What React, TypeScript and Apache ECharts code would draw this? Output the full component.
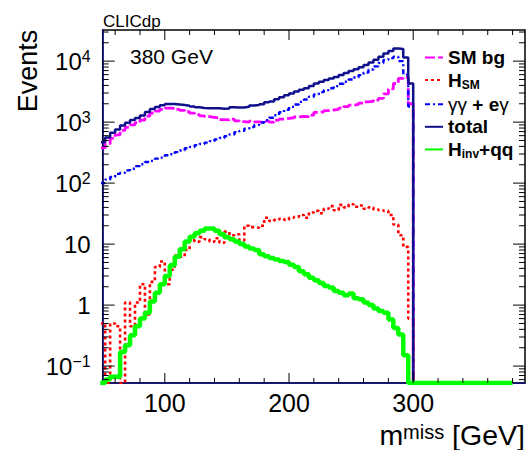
import React, { useEffect, useRef } from 'react';
import * as echarts from 'echarts';

const FONT = '"Liberation Sans", Arial, Helvetica, sans-serif';

// Histogram binning: bins of 4 GeV starting at 48 GeV (first bin clipped by the axis at 50)
const BIN_START = 48;
const BIN_WIDTH = 4;
const HIST_END = 380;
const X_MIN = 50;
const X_MAX = 390;
const Y_MIN = 0.0528;
const Y_MAX = 32400;

// bin centres: 50, 54, ..., 298 (63 bins); all series are empty above 300 GeV
const smBg = [
  380, 440, 540, 620, 730, 820, 900, 980,
  1080, 1250, 1400, 1520, 1620, 1700, 1680, 1620,
  1560, 1480, 1400, 1330, 1270, 1230, 1200, 1170,
  1100, 1090, 1120, 1050, 1020, 1000, 1040, 1010,
  990, 1040, 1000, 1080, 1120, 1150, 1180, 1220,
  1240, 1230, 1300, 1450, 1480, 1540, 1580, 1620,
  1700, 1800, 1900, 1950, 2050, 2150, 2200, 2300,
  2450, 2900, 3500, 4300, 5200, 5400, 2000,
];

const hSM = [
  0.5, 0, 0.5, 0.45, 0, 1.1, 0.45, 1.1,
  2.2, 0.7, 2.4, 4.2, 5.2, 2.2, 3.8, 6.5,
  6.2, 8, 11.5, 11, 13, 12, 11, 12.5,
  10.5, 16, 14, 14.5, 11.5, 20, 19, 18.5,
  20, 27, 24, 25, 26, 25, 27, 28,
  30, 27, 33, 35, 32, 38, 42, 36,
  44, 40, 45, 41, 43, 38, 40, 37,
  36, 35, 30, 21, 14, 9, 0.6,
];

const gammaGamma = [
  100, 114, 126, 142, 148, 162, 172, 190,
  204, 222, 232, 252, 262, 286, 298, 322,
  342, 372, 392, 420, 438, 462, 488, 522,
  548, 590, 628, 682, 718, 782, 828, 900,
  980, 1080, 1180, 1300, 1450, 1600, 1780, 1950,
  2150, 2350, 2600, 2850, 3100, 3350, 3600, 3900,
  4250, 4600, 5000, 5400, 5900, 6500, 7300, 8200,
  9300, 10500, 11200, 11800, 10000, 6000, 1800,
];

const total = [
  470, 560, 670, 760, 880, 980, 1080, 1170,
  1290, 1470, 1640, 1770, 1890, 1990, 1990, 1950,
  1910, 1860, 1800, 1750, 1710, 1690, 1690, 1690,
  1650, 1680, 1750, 1730, 1740, 1780, 1870, 1910,
  1970, 2120, 2180, 2380, 2570, 2750, 2960, 3170,
  3390, 3580, 3900, 4300, 4580, 4890, 5180, 5520,
  5950, 6400, 6900, 7350, 7950, 8650, 9500, 10500,
  11750, 13400, 14700, 16100, 15800, 11500, 4300,
];

const hInvQQ = [
  0, 0.06, 0.067, 0.067, 0.17, 0.22, 0.32, 0.45,
  0.6, 0.75, 1.15, 1.6, 2.2, 3.0, 4.5, 6.2,
  8.2, 11, 13.2, 15, 16.5, 18, 18, 16.5,
  14.5, 13, 12, 11, 10, 9.1, 8.5, 8,
  6.8, 6.3, 5.9, 5.6, 5.3, 5.1, 4.6, 4.2,
  3.6, 3.2, 2.8, 2.55, 2.3, 2.05, 1.95, 1.7,
  1.6, 1.45, 1.55, 1.3, 1.25, 1.1, 1.0, 0.88,
  0.8, 0.75, 0.58, 0.42, 0.33, 0.15, 0,
];

const xMajorTicks = [100, 200, 300];
const xMinorTicks = [60, 80, 120, 140, 160, 180, 220, 240, 260, 280, 320, 340, 360, 380];
const yMajorTicks = [0.1, 1, 10, 100, 1000, 10000];
const yMinorTicks = [
  0.06, 0.07, 0.08, 0.09,
  0.2, 0.3, 0.4, 0.5, 0.6, 0.7, 0.8, 0.9,
  2, 3, 4, 5, 6, 7, 8, 9,
  20, 30, 40, 50, 60, 70, 80, 90,
  200, 300, 400, 500, 600, 700, 800, 900,
  2000, 3000, 4000, 5000, 6000, 7000, 8000, 9000,
  20000, 30000,
];
const yTickLabels: Record<string, string> = {
  '-1': '{b|10}{sup|−1}',
  '0': '{b|1}',
  '1': '{b|10}',
  '2': '{b|10}{sup|2}',
  '3': '{b|10}{sup|3}',
  '4': '{b|10}{sup|4}',
};

const legendNames = ['SM bg', 'H_SM', 'γγ + eγ', 'total', 'H_inv+qq'];
const legendLabels: Record<string, string> = {
  'SM bg': '{b|SM bg}',
  'H_SM': '{b|H}{sub|SM}',
  'γγ + eγ': '{g|γγ}{b| + e}{g|γ}',
  'total': '{b|total}',
  'H_inv+qq': '{b|H}{sub|inv}{b|+qq}',
};

function histData(values: number[]) {
  const pts: [number, number][] = values.map((v, i) => [BIN_START + i * BIN_WIDTH, v > 0 ? v : Y_MIN]);
  const endEdge = BIN_START + values.length * BIN_WIDTH;
  pts.push([endEdge, Y_MIN]);
  pts.push([HIST_END, Y_MIN]);
  return pts;
}

function histSeries(name: string, values: number[], color: string, width: number, type: any) {
  return {
    name,
    type: 'line',
    step: 'end',
    data: histData(values),
    showSymbol: false,
    symbol: 'none',
    lineStyle: { color, width, type, cap: 'butt' },
    itemStyle: { color },
    emphasis: { disabled: true },
    silent: true,
  };
}

export default function App() {
  const ref = useRef<HTMLDivElement>(null);
  useEffect(() => {
    const chart = echarts.init(ref.current!, null, { renderer: 'svg' });
    const tickStyle = { stroke: '#000', lineWidth: 1 };
    const option: any = {
      animation: false,
      backgroundColor: '#fff',
      grid: {
        left: 102.7, right: 1.3, top: 30, bottom: 67,
        show: true, borderColor: '#000', borderWidth: 1.5, backgroundColor: 'transparent',
      },
      xAxis: {
        type: 'value', min: X_MIN, max: X_MAX, interval: 50,
        axisLine: { show: true, lineStyle: { color: '#0c0c7a', width: 1.5 } },
        axisTick: { show: false },
        splitLine: { show: false },
        axisLabel: {
          formatter: (v: number) => (xMajorTicks.includes(v) ? String(v) : ''),
          fontSize: 25, fontFamily: FONT, color: '#000', margin: 7,
        },
      },
      yAxis: {
        type: 'log', logBase: 10, min: Y_MIN, max: Y_MAX,
        axisLine: { show: true, lineStyle: { color: '#0c0c7a', width: 1.5 } },
        axisTick: { show: false },
        splitLine: { show: false },
        minorTick: { show: false },
        axisLabel: {
          margin: 12,
          formatter: (v: number) => {
            const l = Math.log10(v);
            const r = Math.round(l);
            if (Math.abs(l - r) > 1e-6) return '';
            return yTickLabels[String(r)] || '';
          },
          rich: {
            b: { fontSize: 24, fontFamily: FONT, color: '#000', lineHeight: 26 },
            sup: { fontSize: 16, fontFamily: FONT, color: '#000', verticalAlign: 'top', lineHeight: 12 },
          },
        },
      },
      legend: {
        data: legendNames,
        orient: 'vertical', left: 424, top: 48, padding: 0, itemGap: 3.6,
        itemWidth: 18, itemHeight: 12, selectedMode: false,
        itemStyle: { opacity: 0 },
        formatter: (name: string) => legendLabels[name] || name,
        textStyle: {
          fontFamily: FONT, fontSize: 19, fontWeight: 'bold', color: '#000',
          rich: {
            b: { fontFamily: FONT, fontSize: 19, fontWeight: 'bold', color: '#000', lineHeight: 22 },
            g: { fontFamily: FONT, fontSize: 19, fontWeight: 'normal', color: '#000', lineHeight: 22 },
            sub: { fontFamily: FONT, fontSize: 12, fontWeight: 'bold', color: '#000', verticalAlign: 'bottom', lineHeight: 12 },
          },
        },
      },
      graphic: [
        { type: 'text', x: 103, y: 21, style: { text: 'CLICdp', fontSize: 17, fontFamily: FONT, fill: '#000', align: 'left', verticalAlign: 'middle', textAlign: 'left', textVerticalAlign: 'middle' } },
        { type: 'text', x: 130, y: 56, style: { text: '380 GeV', fontSize: 21, fontFamily: FONT, fill: '#000', align: 'left', verticalAlign: 'middle', textAlign: 'left', textVerticalAlign: 'middle' } },
        { type: 'text', x: 28, y: 71, rotation: Math.PI / 2, style: { text: 'Events', fontSize: 27, fontFamily: FONT, fill: '#000', align: 'center', verticalAlign: 'middle', textAlign: 'center', textVerticalAlign: 'middle' } },
        {
          type: 'text', x: 525, y: 435,
          style: {
            text: '{m|m}{s|miss}{m| [GeV]}', fill: '#000', align: 'right', verticalAlign: 'middle', textAlign: 'right', textVerticalAlign: 'middle',
            rich: {
              m: { fontSize: 28.5, fontFamily: FONT, fill: '#000', lineHeight: 26 },
              s: { fontSize: 20, fontFamily: FONT, fill: '#000', verticalAlign: 'top', lineHeight: 10 },
            },
          },
        },
      ],
      series: [
        histSeries('SM bg', smBg, '#ff00ff', 2.8, [10, 3]),
        histSeries('γγ + eγ', gammaGamma, '#0000ff', 2.4, [5, 3, 2, 3]),
        histSeries('H_SM', hSM, '#ff0000', 2.6, [3, 3]),
        histSeries('total', total, '#10108c', 2.5, 'solid'),
        histSeries('H_inv+qq', hInvQQ, '#00ff00', 4.5, 'solid'),
        {
          type: 'custom', coordinateSystem: 'cartesian2d', silent: true, z: 10,
          data: [...xMajorTicks.map((v) => [v, Y_MIN, 10]), ...xMinorTicks.map((v) => [v, Y_MIN, 5])],
          encode: { x: 0, y: 1 },
          renderItem: (_p: any, api: any) => {
            const x = api.value(0);
            const len = api.value(2);
            const pb = api.coord([x, Y_MIN]);
            const pt = api.coord([x, Y_MAX]);
            return {
              type: 'group',
              children: [
                { type: 'line', shape: { x1: pb[0], y1: pb[1], x2: pb[0], y2: pb[1] - len }, style: tickStyle },
                { type: 'line', shape: { x1: pt[0], y1: pt[1], x2: pt[0], y2: pt[1] + len }, style: tickStyle },
              ],
            };
          },
        },
        {
          type: 'custom', coordinateSystem: 'cartesian2d', silent: true, z: 10,
          data: [...yMajorTicks.map((v) => [X_MIN, v, 12]), ...yMinorTicks.map((v) => [X_MIN, v, 6])],
          encode: { x: 0, y: 1 },
          renderItem: (_p: any, api: any) => {
            const y = api.value(1);
            const len = api.value(2);
            const pl = api.coord([X_MIN, y]);
            const pr = api.coord([X_MAX, y]);
            return {
              type: 'group',
              children: [
                { type: 'line', shape: { x1: pl[0], y1: pl[1], x2: pl[0] + len, y2: pl[1] }, style: tickStyle },
                { type: 'line', shape: { x1: pr[0], y1: pr[1], x2: pr[0] - len, y2: pr[1] }, style: tickStyle },
              ],
            };
          },
        },
      ],
    };
    chart.setOption(option);
    return () => chart.dispose();
  }, []);
  return (
    <div
      ref={ref}
      style={{ position: 'fixed', left: 0, top: 0, width: 528, height: 450, background: '#fff' }}
    />
  );
}
